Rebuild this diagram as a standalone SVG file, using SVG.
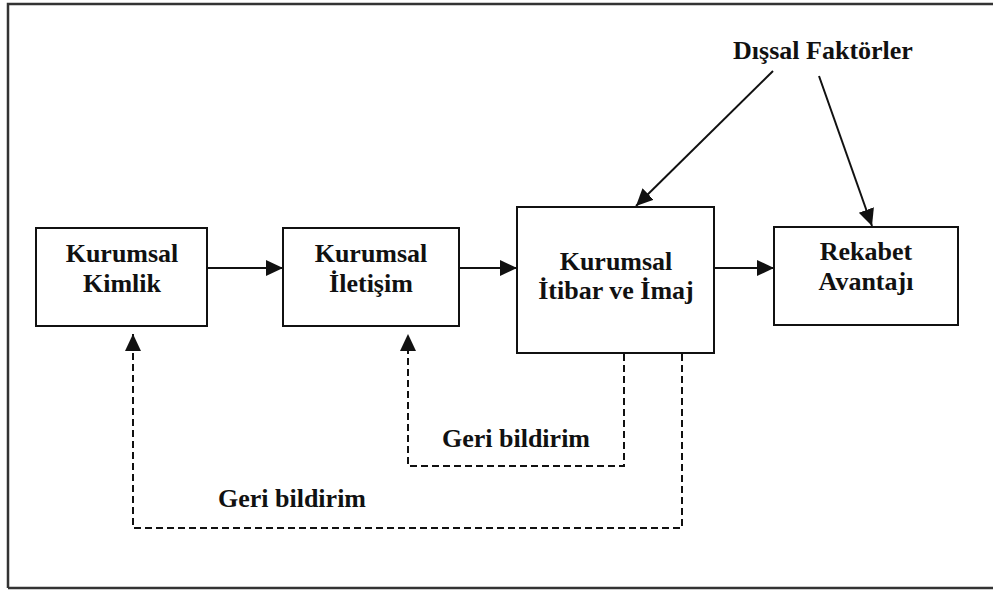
<svg xmlns="http://www.w3.org/2000/svg" width="993" height="590" viewBox="0 0 993 590">
  <style>
    .box { fill: #fff; stroke: #111; stroke-width: 2; }
    .lbl { font-family: "Liberation Serif", "Times New Roman", serif; font-weight: bold; font-size: 26px; fill: #111; text-anchor: middle; }
    .flow { fill: none; stroke: #111; stroke-width: 2; }
    .fb { fill: none; stroke: #111; stroke-width: 2; stroke-dasharray: 7 4; }
  </style>
  <defs>
    <marker id="head" markerUnits="userSpaceOnUse" markerWidth="18" markerHeight="18" refX="17" refY="8" orient="auto">
      <path d="M0,0 L17,8 L0,16 Z" fill="#111"/>
    </marker>
  </defs>

  <rect width="993" height="590" fill="#fff"/>
  <!-- outer frame -->
  <path d="M8,588 L8,4 L993,4 M8,588 L993,588" fill="none" stroke="#333" stroke-width="2.5"/>

  <g id="connectors">
    <line class="flow" x1="207" y1="268" x2="283" y2="268" marker-end="url(#head)"/>
    <line class="flow" x1="459" y1="268" x2="517" y2="268" marker-end="url(#head)"/>
    <line class="flow" x1="714" y1="268" x2="774" y2="268" marker-end="url(#head)"/>
    <line class="flow" x1="773" y1="71" x2="636" y2="206" marker-end="url(#head)"/>
    <line class="flow" x1="819" y1="76" x2="872" y2="226" marker-end="url(#head)"/>
    <!-- feedback loops -->
    <polyline class="fb" points="624,354 624,466 408,466 408,334" marker-end="url(#head)"/>
    <polyline class="fb" points="682,354 682,528 133,528 133,334" marker-end="url(#head)"/>
  </g>

  <g id="kimlik">
    <rect class="box" x="36" y="228" width="171" height="98"/>
    <text class="lbl" x="122" y="262">Kurumsal</text>
    <text class="lbl" x="122" y="292">Kimlik</text>
  </g>
  <g id="iletisim">
    <rect class="box" x="283" y="228" width="176" height="98"/>
    <text class="lbl" x="371" y="262">Kurumsal</text>
    <text class="lbl" x="371" y="292">İletişim</text>
  </g>
  <g id="itibar">
    <rect class="box" x="517" y="207" width="197" height="146"/>
    <text class="lbl" x="616" y="270">Kurumsal</text>
    <text class="lbl" x="616" y="299">İtibar ve İmaj</text>
  </g>
  <g id="rekabet">
    <rect class="box" x="774" y="227" width="184" height="98"/>
    <text class="lbl" x="866" y="260">Rekabet</text>
    <text class="lbl" x="866" y="290">Avantajı</text>
  </g>
  <g id="dissal">
    <text class="lbl" x="823" y="59">Dışsal Faktörler</text>
  </g>
  <g id="feedback-labels">
    <text class="lbl" x="516" y="447">Geri bildirim</text>
    <text class="lbl" x="292" y="507">Geri bildirim</text>
  </g>
</svg>
